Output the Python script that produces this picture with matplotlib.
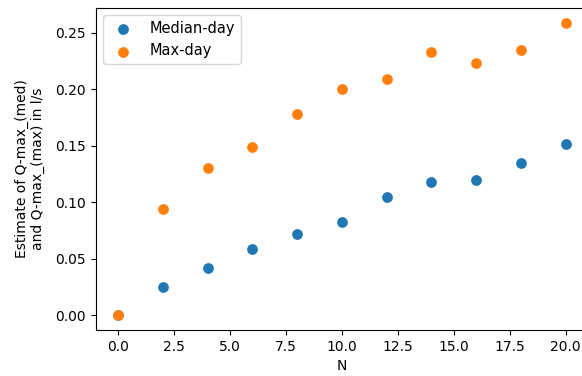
import matplotlib
matplotlib.use('Agg')
import matplotlib.pyplot as plt

N = [0, 2, 4, 6, 8, 10, 12, 14, 16, 18, 20]
q_median_day = [0.0, 0.025, 0.042, 0.059, 0.072, 0.083, 0.105, 0.118, 0.120, 0.135, 0.152]
q_max_day = [0.0, 0.094, 0.130, 0.149, 0.178, 0.200, 0.209, 0.233, 0.223, 0.235, 0.259]

fig = plt.figure(figsize=(5.82, 3.76), dpi=100)
ax = fig.add_axes([0.1644, 0.1223, 0.846, 0.8564])

ax.scatter(N, q_median_day, s=45, label='Median-day')
ax.scatter(N, q_max_day, s=45, label='Max-day')

ax.set_xlabel('N')
ax.set_ylabel('Estimate of Q-max_(med)\nand Q-max_(max) in l/s', labelpad=7)
ax.set_xticks([0, 2.5, 5, 7.5, 10, 12.5, 15, 17.5, 20])
ax.legend(loc='upper left', fontsize=10.5)

fig.savefig('out.png', dpi=100)
